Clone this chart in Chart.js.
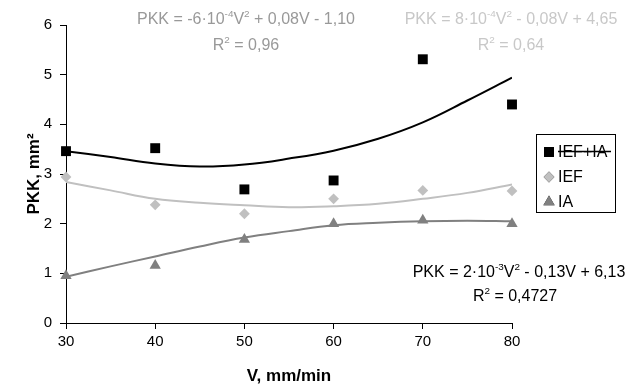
<!DOCTYPE html>
<html>
<head>
<meta charset="utf-8">
<script src="https://cdn.jsdelivr.net/npm/chart.js@4/dist/chart.umd.min.js"></script>
<style>
  html, body { margin: 0; padding: 0; background: #fff; }
  #wrap { width: 633px; height: 387px; }
</style>
</head>
<body>
<div id="wrap"><canvas id="chart"></canvas></div>
<script>
// measured points
const vValues = [30, 40, 50, 60, 70, 80];
const pkkIefIa = [3.46, 3.52, 2.69, 2.87, 5.31, 4.40];
const pkkIef = [2.94, 2.38, 2.20, 2.50, 2.67, 2.66];
const pkkIa = [0.95, 1.16, 1.68, 2.00, 2.07, 2.00];

// trend lines
const trendV = [30, 35, 40, 45, 50, 55, 60, 65, 70, 75, 80];
const trendIefIa = [3.46, 3.34, 3.21, 3.15, 3.19, 3.31, 3.47, 3.71, 4.04, 4.48, 4.94];
const trendIef = [2.84, 2.67, 2.50, 2.42, 2.37, 2.33, 2.35, 2.40, 2.50, 2.62, 2.79];
const trendIa = [0.93, 1.14, 1.34, 1.54, 1.72, 1.85, 1.97, 2.02, 2.05, 2.06, 2.05];

const seriesNames = ['IEF+IA', 'IEF', 'IA'];
const xTicks = [30, 40, 50, 60, 70, 80];
const yTicks = [0, 1, 2, 3, 4, 5, 6];

// equation labels: [text, superscript?]
const eqIefIa = [['PKK = -6·10', 0], ['-4', 1], ['V', 0], ['2', 1], [' + 0,08V - 1,10', 0]];
const r2IefIa = [['R', 0], ['2', 1], [' = 0,96', 0]];
const eqIef = [['PKK = 8·10', 0], ['-4', 1], ['V', 0], ['2', 1], [' - 0,08V + 4,65', 0]];
const r2Ief = [['R', 0], ['2', 1], [' = 0,64', 0]];
const eqIa = [['PKK = 2·10', 0], ['-3', 1], ['V', 0], ['2', 1], [' - 0,13V + 6,13', 0]];
const r2Ia = [['R', 0], ['2', 1], [' = 0,4727', 0]];

const FONT = '"Liberation Sans", Arial, sans-serif';

function pts(xs, ys) {
  return xs.map((x, i) => ({ x: x, y: ys[i] }));
}

function drawRuns(ctx, runs, cx, cy, size, color) {
  const sup = size * 0.62;
  let total = 0;
  runs.forEach(([t, s]) => {
    ctx.font = (s ? sup : size) + 'px ' + FONT;
    total += ctx.measureText(t).width;
  });
  let x = cx - total / 2;
  ctx.fillStyle = color;
  ctx.textAlign = 'left';
  ctx.textBaseline = 'alphabetic';
  const base = cy + size * 0.36;
  runs.forEach(([t, s]) => {
    ctx.font = (s ? sup : size) + 'px ' + FONT;
    ctx.fillText(t, x, s ? base - size * 0.42 : base);
    x += ctx.measureText(t).width;
  });
}

const notes = {
  id: 'notes',
  afterDraw(chart) {
    const ctx = chart.ctx;
    ctx.save();
    drawRuns(ctx, eqIefIa, 246, 18, 16, '#999999');
    drawRuns(ctx, r2IefIa, 246, 44, 16, '#999999');
    drawRuns(ctx, eqIef, 511, 18, 16, '#c8c8c8');
    drawRuns(ctx, r2Ief, 511, 44, 16, '#c8c8c8');
    drawRuns(ctx, eqIa, 519, 271, 16, '#000000');
    drawRuns(ctx, r2Ia, 515, 295, 16, '#000000');

    // legend box
    ctx.strokeStyle = '#000';
    ctx.lineWidth = 1;
    ctx.strokeRect(536.5, 134.5, 79, 78);
    const rows = [152, 177, 202];
    const styles = chart.data.datasets.slice(0, 3);
    ctx.font = '16px ' + FONT;
    ctx.textBaseline = 'middle';
    rows.forEach((y, i) => {
      const ds = styles[i];
      Chart.helpers.drawPoint(ctx, {
        pointStyle: ds.pointStyle, radius: ds.pointRadius,
        borderWidth: 0, rotation: 0
      }, 549, y);
      ctx.fillStyle = ds.backgroundColor;
      ctx.fill();
      ctx.fillStyle = '#000';
      ctx.fillText(seriesNames[i], 558, y + 1);
    });
    // the black trend line runs through the first legend entry
    ctx.beginPath();
    ctx.moveTo(558, 151.5);
    ctx.lineTo(611, 151.5);
    ctx.lineWidth = 1.5;
    ctx.strokeStyle = '#000';
    ctx.stroke();
    ctx.restore();
  }
};

new Chart(document.getElementById('chart'), {
  type: 'scatter',
  data: {
    datasets: [
      { label: seriesNames[0], data: pts(vValues, pkkIefIa), pointStyle: 'rect', pointRadius: 7,
        backgroundColor: '#000000', borderWidth: 0, order: 1, clip: false },
      { label: seriesNames[1], data: pts(vValues, pkkIef), pointStyle: 'rectRot', pointRadius: 5.4,
        backgroundColor: '#c0c0c0', borderWidth: 0, order: 1, clip: false },
      { label: seriesNames[2], data: pts(vValues, pkkIa), pointStyle: 'triangle', pointRadius: 6.5,
        backgroundColor: '#808080', borderWidth: 0, order: 1, clip: false },
      { label: 'trend IEF+IA', data: pts(trendV, trendIefIa), showLine: true, pointRadius: 0,
        borderColor: '#000000', borderWidth: 2, tension: 0.4, order: 2 },
      { label: 'trend IEF', data: pts(trendV, trendIef), showLine: true, pointRadius: 0,
        borderColor: '#c0c0c0', borderWidth: 2, tension: 0.4, order: 2 },
      { label: 'trend IA', data: pts(trendV, trendIa), showLine: true, pointRadius: 0,
        borderColor: '#808080', borderWidth: 2, tension: 0.4, order: 2 }
    ]
  },
  options: {
    responsive: true,
    maintainAspectRatio: false,
    animation: false,
    layout: { padding: { top: 25, right: 121, left: 0, bottom: 0 } },
    plugins: { legend: { display: false }, tooltip: { enabled: false } },
    scales: {
      x: {
        type: 'linear', min: 30, max: 80,
        afterBuildTicks: s => { s.ticks = xTicks.map(v => ({ value: v })); },
        afterFit: s => { s.height = 64; },
        grid: { drawOnChartArea: false, drawTicks: true, tickLength: 6, color: '#000' },
        border: { color: '#000', width: 1 },
        ticks: { color: '#000', font: { family: FONT, size: 15 }, padding: 4 },
        title: { display: true, text: 'V, mm/min', color: '#000',
          font: { family: FONT, size: 17, weight: 'bold' }, padding: { top: 0, bottom: 0 } }
      },
      y: {
        type: 'linear', min: 0, max: 6,
        afterBuildTicks: s => { s.ticks = yTicks.map(v => ({ value: v })); },
        afterFit: s => { s.width = 66; },
        grid: { drawOnChartArea: false, drawTicks: true, tickLength: 6, color: '#000' },
        border: { color: '#000', width: 1 },
        ticks: { color: '#000', font: { family: FONT, size: 15 }, padding: 8 },
        title: { display: true, text: 'PKK, mm²', color: '#000',
          font: { family: FONT, size: 17, weight: 'bold' }, padding: { top: 24, bottom: 0 } }
      }
    }
  },
  plugins: [notes]
});
</script>
</body>
</html>
